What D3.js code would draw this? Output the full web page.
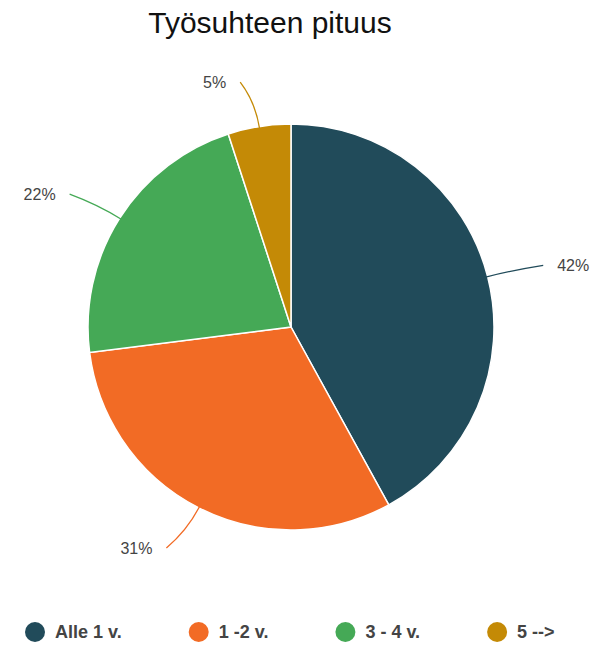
<!DOCTYPE html>
<html>
<head>
<meta charset="utf-8">
<script src="https://cdn.jsdelivr.net/npm/d3@7"></script>
<style>
  html, body { margin: 0; padding: 0; background: #fff; }
  svg { display: block; font-family: "Liberation Sans", Arial, sans-serif; }
</style>
</head>
<body>
<svg id="chart" width="596" height="645"></svg>
<script>
// Employment duration distribution (percent of respondents)
const categories = ["Alle 1 v.", "1 -2 v.", "3 - 4 v.", "5 -->"];
const values = [42, 31, 22, 5];
const colors = ["#214b5a", "#f26b25", "#45a956", "#c48a06"];
const title = "Työsuhteen pituus";

const width = 596, height = 645;
const cx = 291, cy = 327, radius = 203;

const svg = d3.select("#chart");

svg.append("text")
  .attr("x", 270)
  .attr("y", 33)
  .attr("text-anchor", "middle")
  .attr("font-size", 30)
  .attr("fill", "#111")
  .text(title);

const data = categories.map((c, i) => ({ name: c, value: values[i], color: colors[i] }));

const pie = d3.pie().value(d => d.value).sort(null);
const arcs = pie(data);
const arc = d3.arc().innerRadius(0).outerRadius(radius);

const g = svg.append("g").attr("transform", `translate(${cx},${cy})`);

g.selectAll("path.slice")
  .data(arcs)
  .join("path")
  .attr("class", "slice")
  .attr("d", arc)
  .attr("fill", d => d.data.color)
  .attr("stroke", "#fff")
  .attr("stroke-width", 1.5);

// Leader lines: radial start, gentle bend toward the label
const polar = (a, r) => [Math.sin(a) * r, -Math.cos(a) * r];
const total = d3.sum(values);

arcs.forEach(d => {
  const a = (d.startAngle + d.endAngle) / 2;
  const side = Math.sin(a) >= 0 ? 1 : -1;
  const p0 = polar(a, radius - 2);
  const c1 = polar(a, radius + 25);
  const pe = polar(a, radius + 45);
  const p2 = [pe[0] + side * 12, pe[1]];
  g.append("path")
    .attr("d", `M${p0[0]},${p0[1]}Q${c1[0]},${c1[1]} ${p2[0]},${p2[1]}`)
    .attr("fill", "none")
    .attr("stroke", d.data.color)
    .attr("stroke-width", 1.3);
  g.append("text")
    .attr("x", p2[0] + side * 14)
    .attr("y", p2[1])
    .attr("dy", "0.35em")
    .attr("text-anchor", side > 0 ? "start" : "end")
    .attr("font-size", 16)
    .attr("fill", "#444")
    .text(Math.round(d.data.value / total * 100) + "%");
});

// Legend: items laid out left to right by their text widths
const lg = svg.append("g").attr("transform", "translate(0,632)");
let lx = 35;
data.forEach(d => {
  const item = lg.append("g").attr("transform", `translate(${lx},0)`);
  item.append("circle").attr("r", 10).attr("fill", d.color);
  const t = item.append("text")
    .attr("x", 20)
    .attr("dy", "0.35em")
    .attr("font-size", 18)
    .attr("font-weight", "bold")
    .attr("fill", "#444")
    .text(d.name);
  lx += 20 + t.node().getComputedTextLength() + 77;
});
</script>
</body>
</html>
